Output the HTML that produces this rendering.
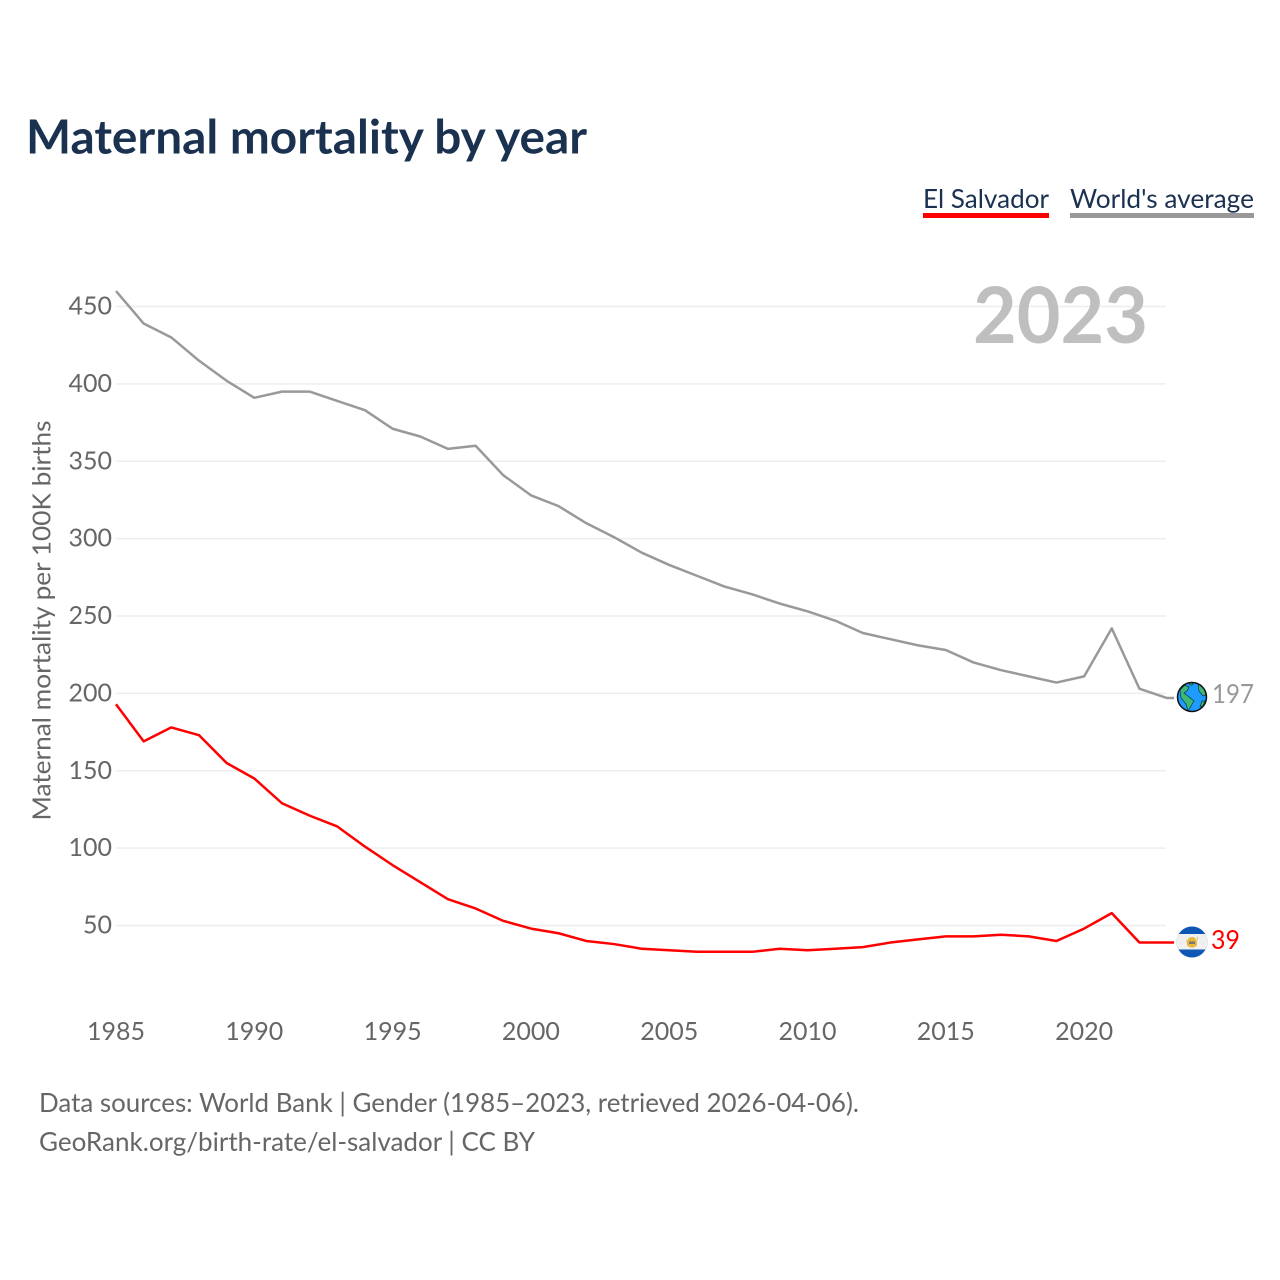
<!DOCTYPE html>
<html lang="en">
<head>
<meta charset="utf-8">
<title>Maternal mortality by year</title>
<style>
html,body{margin:0;padding:0;background:#fff;width:1280px;height:1280px;overflow:hidden}
svg{display:block}
text{font-family:"Lato","Carlito","Liberation Sans",sans-serif}
</style>
</head>
<body>
<svg id="chart" xmlns="http://www.w3.org/2000/svg" width="1280" height="1280" viewBox="0 0 1280 1280">
  <text x="26" y="153.5" font-size="46.5" font-weight="700" fill="#1a3150" textLength="561" lengthAdjust="spacingAndGlyphs">Maternal mortality by year</text>
  <g>
    <g>
      <text x="923" y="208" font-size="26.5" fill="#1a3150" textLength="126" lengthAdjust="spacingAndGlyphs">El Salvador</text>
      <rect x="923" y="213" width="126" height="5" fill="#ff0000"/>
    </g>
    <g>
      <text x="1070" y="208" font-size="26.5" fill="#1a3150" textLength="184" lengthAdjust="spacingAndGlyphs">World's average</text>
      <rect x="1070" y="213" width="184" height="5" fill="#999999"/>
    </g>
  </g>
  <g id="grid"></g>
  <text x="973" y="343" font-size="78" font-weight="700" fill="#bfbfbf" textLength="175" lengthAdjust="spacingAndGlyphs">2023</text>
  <g id="yticks"></g>
  <g id="xticks"></g>
  <text transform="translate(50.5,620.5) rotate(-90)" text-anchor="middle" font-size="25.5" fill="#666666" textLength="400" lengthAdjust="spacingAndGlyphs">Maternal mortality per 100K births</text>
  <g id="series"></g>

  <g id="globe-icon">
    <defs><clipPath id="globe-clip"><circle cx="1192" cy="697" r="14.5"/></clipPath>
    <clipPath id="flag-clip"><circle cx="1192" cy="942" r="15.5"/></clipPath></defs>
    <circle cx="1192" cy="697" r="14.5" fill="#1e9bff"/>
    <g clip-path="url(#globe-clip)" fill="#3cb878" stroke="#10303a" stroke-width="0.7">
      <path d="M1180 690 L1185 685 L1189 687 L1187 691 L1184 693 L1189 697 L1194 701 L1191 706 L1188 711 L1186 704 L1181 698 Z"/>
      <path d="M1198 684 L1204 688 L1206 695 L1203 696 L1199 691 Z"/>
      <path d="M1202 701 L1205 701 L1203 706 L1200 707 Z"/>
      <path d="M1189 683 L1193 683 L1192 685 L1190 685 Z"/>
    </g>
    <circle cx="1192" cy="697" r="14.5" fill="none" stroke="#111111" stroke-width="1.5"/>
  </g>
  <g id="flag-icon">
    <g clip-path="url(#flag-clip)">
      <rect x="1176" y="926" width="32" height="32" fill="#0f57b5"/>
      <rect x="1176" y="934" width="32" height="15.5" fill="#f0f0f0"/>
    </g>
    <path d="M1186 937 A6 6 0 0 0 1198 937 L1197 937 L1197 945 A6 6 0 0 1 1187 945 Z" fill="#e9b93a"/>
    <circle cx="1192" cy="942" r="5" fill="#e9b93a"/>
    <rect x="1189" y="941.5" width="6" height="2.5" fill="#777777"/>
  </g>
  <text id="end-label-world" x="1212" y="703" font-size="26" fill="#999999" textLength="42" lengthAdjust="spacingAndGlyphs"></text>
  <text id="end-label-country" x="1211" y="949" font-size="26" fill="#ff0000" textLength="29" lengthAdjust="spacingAndGlyphs"></text>

  <text x="39" y="1112" font-size="26.5" fill="#666666" textLength="820" lengthAdjust="spacingAndGlyphs">Data sources: World Bank | Gender (1985–2023, retrieved 2026-04-06).</text>
  <text x="39" y="1151" font-size="26.5" fill="#666666" textLength="496" lengthAdjust="spacingAndGlyphs">GeoRank.org/birth-rate/el-salvador | CC BY</text>
</svg>
<script>
const years = [1985,1986,1987,1988,1989,1990,1991,1992,1993,1994,1995,1996,1997,1998,1999,2000,2001,2002,2003,2004,2005,2006,2007,2008,2009,2010,2011,2012,2013,2014,2015,2016,2017,2018,2019,2020,2021,2022,2023];
const worldValues = [460,439,430,415,402,391,395,395,389,383,371,366,358,360,341,328,321,310,301,291,283,276,269,264,258,253,247,239,235,231,228,220,215,211,207,211,242,203,197];
const elSalvadorValues = [193,169,178,173,155,145,129,121,114,101,89,78,67,61,53,48,45,40,38,35,34,33,33,33,35,34,35,36,39,41,43,43,44,43,40,48,58,39,39];
const yTickValues = [50,100,150,200,250,300,350,400,450];
const xTickValues = [1985,1990,1995,2000,2005,2010,2015,2020];

const NS = 'http://www.w3.org/2000/svg';
function xScale(year){ return 116 + (year - 1985) * 27.66; }
function yScale(value){ return 925.5 - (value - 50) * 1.5475; }
function make(tag, attrs, parent){
  const el = document.createElementNS(NS, tag);
  for (const k in attrs) el.setAttribute(k, attrs[k]);
  parent.appendChild(el);
  return el;
}
const gridGroup = document.getElementById('grid');
const yTickGroup = document.getElementById('yticks');
const xTickGroup = document.getElementById('xticks');
const seriesGroup = document.getElementById('series');

yTickValues.forEach(function(v){
  const line = make('line', {x1:116, x2:1166, y1:yScale(v), y2:yScale(v), stroke:'#eeeeee', 'stroke-width':1.5}, gridGroup);
  
  
  const t = make('text', {x:112, y:yScale(v)+8, 'text-anchor':'end', 'font-size':25, fill:'#666666'}, yTickGroup);
  
  
  t.textContent = v;
});
xTickValues.forEach(function(v){
  const t = make('text', {x:xScale(v), y:1040, 'text-anchor':'middle', 'font-size':25, fill:'#666666'}, xTickGroup);
  
  
  t.textContent = v;
});
function linePoints(values){
  const pts = values.map(function(v,i){ return xScale(years[i]) + ',' + yScale(v); });
  pts.push((xScale(years[years.length-1]) + 7) + ',' + yScale(values[values.length-1]));
  return pts.join(' ');
}
const worldLine = make('polyline', {points:linePoints(worldValues), fill:'none', stroke:'#999999', 'stroke-width':2.5, 'stroke-linejoin':'round'}, seriesGroup);


const countryLine = make('polyline', {points:linePoints(elSalvadorValues), fill:'none', stroke:'#ff0000', 'stroke-width':2.5, 'stroke-linejoin':'round'}, seriesGroup);



document.getElementById('end-label-world').textContent = worldValues[worldValues.length-1];
document.getElementById('end-label-country').textContent = elSalvadorValues[elSalvadorValues.length-1];
</script>
</body>
</html>
